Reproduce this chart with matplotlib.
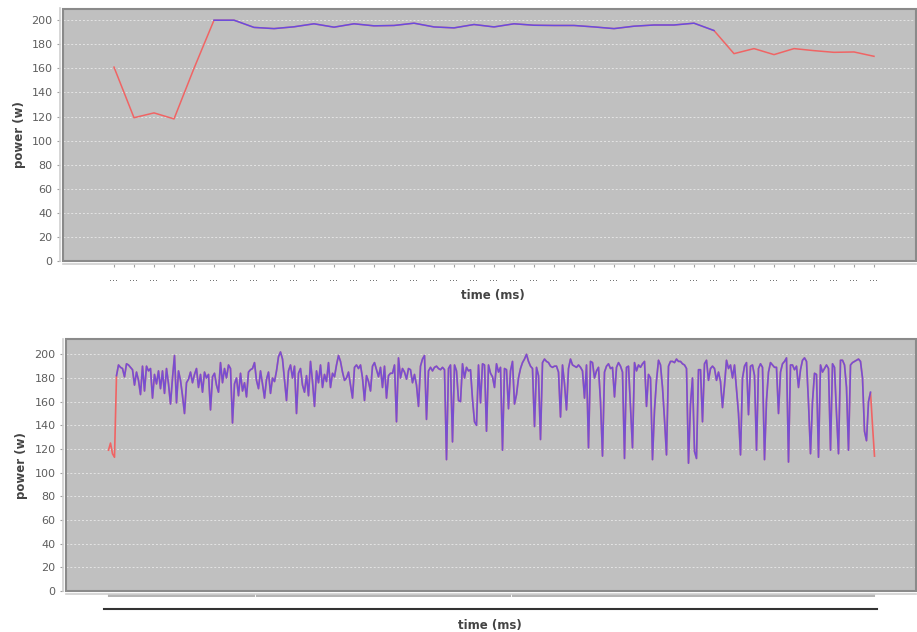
import matplotlib
matplotlib.use('Agg')
import matplotlib.pyplot as plt
from matplotlib.patches import Rectangle
from matplotlib.lines import Line2D
import numpy as np

plt.rcParams['font.family'] = ['DejaVu Sans']

W, H = 917, 632

# ---------------- data ----------------
top_power = [161, 119, 123, 118, 160, 200, 200, 194, 193, 194.5,
             197, 194.2, 197, 195.3, 195.6, 197.5, 194.4, 193.6, 196.4, 194.4,
             197, 195.8, 195.6, 195.6, 194.4, 193, 195, 196, 196, 197.5,
             191.4, 172.2, 176.4, 171.4, 176.4, 174.7, 173.3, 173.6, 170]
top_tick_labels = ['...'] * len(top_power)
top_blue_range = (5, 30)      # categories drawn in the second (blue) series

bottom_power = [
    # part 1
    119, 125, 116, 113, 182, 191, 189, 188, 181, 192, 191, 189, 187, 174, 185, 178, 166, 190, 169, 190,
    186, 188, 163, 183, 175, 186, 171, 186, 167, 188, 175, 158, 180, 199, 159, 186, 178, 165, 150, 176,
    179, 185, 176, 183, 188, 172, 183, 168, 185, 180, 183, 153, 181, 184, 174, 168, 193, 176, 188, 180, 191,
    # part 2
    188, 142, 175, 180, 165, 184, 169, 176, 164, 185, 187, 188, 193, 178, 171, 186, 175, 163, 179, 185,
    167, 180, 177, 186, 198, 202, 196, 178, 161, 186, 191, 180, 190, 150, 184, 188, 174, 168, 182, 165,
    194, 177, 156, 186, 176, 191, 172, 183, 177, 193, 172, 184, 181, 191, 199, 194, 185, 178, 180, 185,
    174, 163, 189,
    # part 3
    191, 188, 191, 180, 161, 182, 177, 169, 190, 193, 187, 181, 189, 172, 190, 163, 182, 184, 184, 191,
    143, 197, 180, 188, 185, 179, 188, 187, 176, 183, 174, 156, 190, 196, 199, 145, 186, 189, 186, 189,
    190, 188, 187, 189, 187, 111, 188, 191, 126, 191, 186, 161, 160, 192, 180, 189, 186, 187, 162, 143,
    140, 191,
    # part 4
    159, 192, 191, 135, 191, 184, 181, 172, 192, 185, 189, 119, 188, 187, 154, 186, 194, 158, 166, 180,
    188, 193, 196, 200, 194, 190, 188, 139, 189, 182, 128, 193, 196, 194, 193, 190, 189, 190, 190, 185,
    147, 191, 175, 153, 188, 196, 191, 190, 189, 191, 189, 186, 163, 191, 121, 194, 193, 180, 186, 189,
    160, 114, 185,
    # part 5
    190, 192, 188, 189, 164, 189, 193, 190, 185, 112, 189, 190, 155, 121, 193, 186, 191, 189, 192, 194,
    156, 183, 180, 111, 153, 178, 195, 191, 172, 145, 115, 190, 194, 194, 193, 196, 194, 194, 192, 191,
    188, 108, 158, 180, 118, 112, 187, 187, 143, 192, 195, 178, 188, 190, 188, 178, 185, 177, 155, 174,
    195, 188, 191, 180, 191, 170, 150,
    # part 6
    115, 180, 190, 193, 149, 190, 191, 182, 119, 188, 192, 189, 111, 161, 185, 193, 191, 189, 189, 150,
    185, 192, 194, 197, 109, 191, 191, 187, 190, 172, 187, 195, 197, 194, 159, 116, 160, 184, 183, 113,
    191, 185, 188, 191, 188, 119, 192, 189, 150, 116, 195, 195, 191, 172, 119, 191, 193, 194, 195, 196,
    194, 180, 135, 127, 160, 168, 140, 114,
]
bottom_blue_range = (4, 381)

y_ticks = list(range(0, 201, 20))

# ---------------- helpers ----------------
def fx(x):
    return x / W

def fy(y):
    return 1 - y / H

RED = '#f06464'
BLUE = '#4646ff'
TXT = '#5e5e5e'
LBL = '#444444'

def style(ax, ytop):
    ax.set_facecolor('#c0c0c0')
    ax.set_ylim(0, ytop)
    for s in ['top', 'right']:
        ax.spines[s].set_visible(False)
    for s in ['left', 'bottom']:
        ax.spines[s].set_position(('outward', 2.2))
        ax.spines[s].set_color('#cfcfcf')
        ax.spines[s].set_linewidth(1.2)
    ax.add_patch(Rectangle((0, 0), 1, 1, transform=ax.transAxes, fill=False,
                           edgecolor='#8a8a8a', lw=1.5, clip_on=False, zorder=6))
    ax.set_yticks(y_ticks)
    ax.tick_params(axis='y', length=2.2, width=0.8, color='#a0a0a0',
                   labelsize=8, labelcolor=TXT, pad=3)
    ax.grid(axis='y', color='#e4e4e4', lw=0.7, ls=(0, (2, 2)))
    ax.set_axisbelow(True)

fig = plt.figure(figsize=(W / 100, H / 100), dpi=100)

# ---------------- top chart ----------------
ax1 = fig.add_axes([fx(63), fy(261), fx(916) - fx(63), fy(8.5) - fy(261)])
style(ax1, 209.7)
xt = np.arange(len(top_power))
ax1.set_xlim(-2.55, 40.1)
ax1.plot(xt, top_power, color=RED, lw=1.1, zorder=3)
b0, b1 = top_blue_range
ax1.plot(xt[b0:b1 + 1], top_power[b0:b1 + 1], color=BLUE, alpha=0.8, lw=1.1, zorder=4)
ax1.set_xticks(xt)
ax1.set_xticklabels(top_tick_labels)
ax1.tick_params(axis='x', length=2.2, width=0.8, color='#a0a0a0',
                labelsize=7, labelcolor='#555555', pad=4)

# ---------------- bottom chart ----------------
ax2 = fig.add_axes([fx(66), fy(591), fx(916) - fx(66), fy(339.3) - fy(591)])
style(ax2, 212.7)
xb = np.arange(len(bottom_power))
ax2.set_xlim(-21.25, 403.75)
ax2.plot(xb, bottom_power, color=RED, lw=1.2, zorder=3)
c0, c1 = bottom_blue_range
ax2.plot(xb[c0:c1 + 1], bottom_power[c0:c1 + 1], color=BLUE, alpha=0.7, lw=1.2, zorder=4)
ax2.set_xticks(xb)
ax2.set_xticklabels([''] * len(xb))
ax2.tick_params(axis='x', length=2.2, width=1.5, color='#b4b4b4')

# squeezed category labels of the bottom chart
fig.add_artist(Line2D([fx(104), fx(877)], [fy(608.5), fy(608.5)], color='#333333', lw=1.5))

# ---------------- axis titles ----------------
fig.text(fx(19), fy(135), 'power (w)', rotation=90, ha='center', va='center',
         fontsize=8.5, fontweight='bold', color=LBL)
fig.text(fx(22), fy(466), 'power (w)', rotation=90, ha='center', va='center',
         fontsize=8.5, fontweight='bold', color=LBL)
fig.text(fx(493), fy(295), 'time (ms)', ha='center', va='center',
         fontsize=8.5, fontweight='bold', color=LBL)
fig.text(fx(490), fy(626), 'time (ms)', ha='center', va='center',
         fontsize=8.5, fontweight='bold', color=LBL)

fig.savefig('out.png', dpi=100, facecolor='white')
